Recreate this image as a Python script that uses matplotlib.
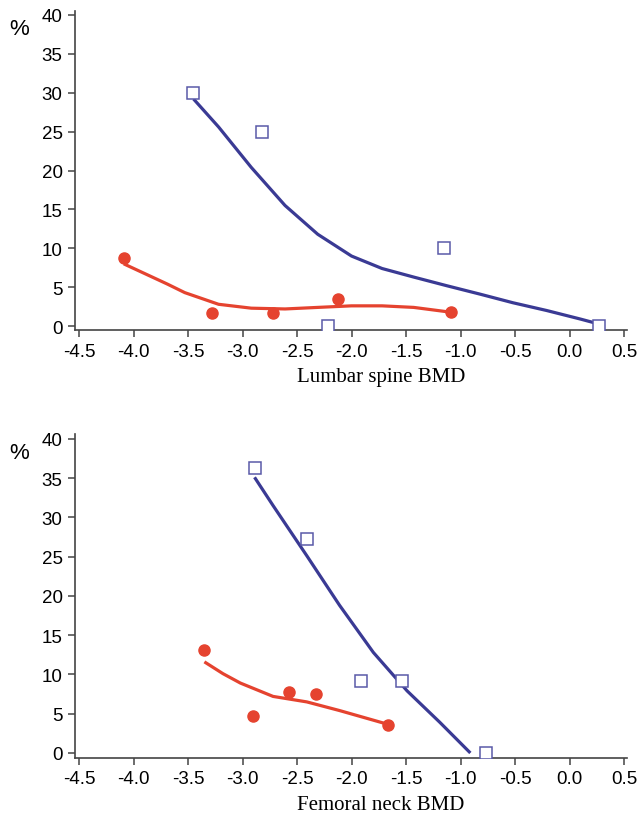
import matplotlib.pyplot as plt

plt.rcParams["axes.unicode_minus"] = False

# observed points, lumbar spine
ls_blue_x = [-3.45, -2.82, -2.22, -1.15, 0.27]
ls_blue_y = [30, 25, 0, 10, 0]
ls_red_x = [-4.09, -3.28, -2.72, -2.12, -1.09]
ls_red_y = [8.8, 1.7, 1.7, 3.5, 1.8]

# fitted curves, lumbar spine
ls_blue_fit_x = [-3.45, -3.22, -2.92, -2.61, -2.31, -2.00, -1.72, -1.43, -1.13,
                 -0.82, -0.52, -0.21, 0.10, 0.26]
ls_blue_fit_y = [29.2, 25.6, 20.4, 15.5, 11.8, 9.0, 7.4, 6.3, 5.2,
                 4.1, 3.0, 2.0, 0.9, 0.3]
ls_red_fit_x = [-4.09, -3.69, -3.53, -3.22, -2.92, -2.61, -2.31, -2.00, -1.72, -1.43, -1.10]
ls_red_fit_y = [8.0, 5.4, 4.3, 2.8, 2.3, 2.2, 2.4, 2.6, 2.6, 2.4, 1.8]

# observed points, femoral neck
fn_blue_x = [-2.89, -2.41, -1.91, -1.54, -0.77]
fn_blue_y = [36.3, 27.3, 9.1, 9.1, 0]
fn_red_x = [-3.35, -2.90, -2.57, -2.33, -1.67]
fn_red_y = [13.1, 4.7, 7.8, 7.5, 3.6]

# fitted curves, femoral neck
fn_blue_fit_x = [-2.89, -2.72, -2.41, -2.11, -1.80, -1.49, -1.19, -0.91]
fn_blue_fit_y = [35.1, 31.5, 25.1, 18.8, 12.8, 7.9, 3.9, 0.0]
fn_red_fit_x = [-3.35, -3.18, -3.02, -2.72, -2.41, -2.11, -1.68]
fn_red_fit_y = [11.6, 10.1, 8.9, 7.2, 6.5, 5.4, 3.7]

blue = "#3a3a94"
sq_edge = "#5a5aa8"
red = "#e5432f"

xticks = [-4.5, -4.0, -3.5, -3.0, -2.5, -2.0, -1.5, -1.0, -0.5, 0.0, 0.5]
yticks = [0, 5, 10, 15, 20, 25, 30, 35, 40]

fig = plt.figure(figsize=(6.39, 8.2), dpi=100)


def draw(ax, bx, by, rx, ry, bfx, bfy, rfx, rfy, label, ylim):
    ax.plot(bfx, bfy, color=blue, lw=2.3, solid_capstyle="butt", zorder=2)
    ax.plot(rfx, rfy, color=red, lw=2.3, solid_capstyle="butt", zorder=2)
    ax.plot(bx, by, ls="none", marker="s", ms=8, mfc="white", mec=sq_edge, mew=1.1, zorder=3)
    ax.plot(rx, ry, ls="none", marker="o", ms=8, mfc=red, mec=red, zorder=3)
    ax.set_xlim(-4.537, 0.527)
    ax.set_ylim(*ylim)
    ax.set_xticks(xticks)
    ax.set_xticklabels([f"{v:.1f}" for v in xticks])
    ax.set_yticks(yticks)
    for s in ["top", "right"]:
        ax.spines[s].set_visible(False)
    for s in ["left", "bottom"]:
        ax.spines[s].set_color("#444444")
        ax.spines[s].set_linewidth(1.2)
    ax.tick_params(direction="out", length=5, width=1.1, color="#444444",
                   labelsize=13.5, pad=4)
    for t in ax.get_xticklabels() + ax.get_yticklabels():
        t.set_family("Liberation Sans")
    ax.text(0.554, -0.145, label, transform=ax.transAxes, ha="center", va="center",
            fontsize=15, family="Liberation Serif")
    ax.text(-0.101, 0.944, "%", transform=ax.transAxes, ha="center", va="center",
            fontsize=16, family="Liberation Sans")


ax1 = fig.add_axes([0.1174, 0.5963, 0.8638, 0.389])
draw(ax1, ls_blue_x, ls_blue_y, ls_red_x, ls_red_y,
     ls_blue_fit_x, ls_blue_fit_y, ls_red_fit_x, ls_red_fit_y,
     "Lumbar spine BMD", (-0.51, 40.5))

ax2 = fig.add_axes([0.1174, 0.0744, 0.8638, 0.395])
draw(ax2, fn_blue_x, fn_blue_y, fn_red_x, fn_red_y,
     fn_blue_fit_x, fn_blue_fit_y, fn_red_fit_x, fn_red_fit_y,
     "Femoral neck BMD", (-0.64, 40.6))

fig.savefig("out.png", dpi=100)
